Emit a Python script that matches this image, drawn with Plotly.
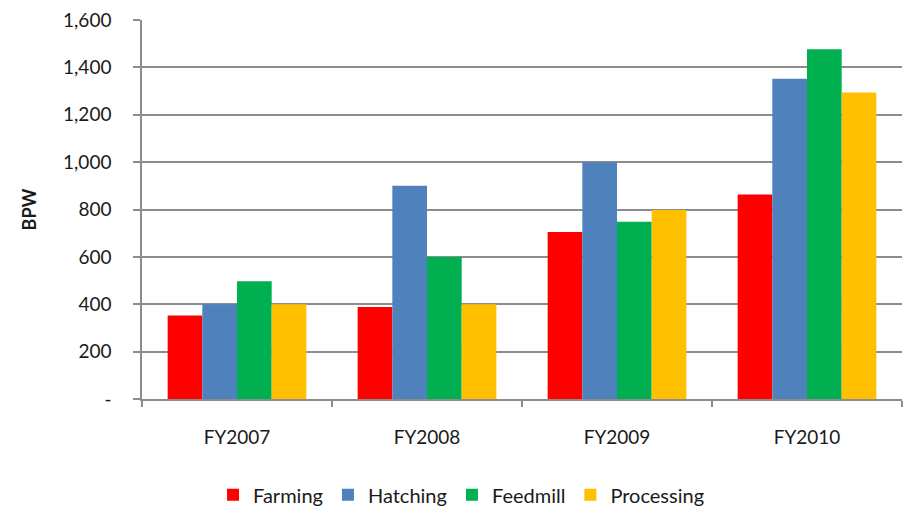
import plotly.graph_objects as go

years = ["FY2007", "FY2008", "FY2009", "FY2010"]
farming = [352, 388, 705, 863]
hatching = [400, 900, 1000, 1352]
feedmill = [497, 600, 748, 1477]
processing = [400, 400, 798, 1294]

series = [
    ("Farming", farming, "#FF0000"),
    ("Hatching", hatching, "#4F81BD"),
    ("Feedmill", feedmill, "#00B050"),
    ("Processing", processing, "#FFC000"),
]

y_ticks = [0, 200, 400, 600, 800, 1000, 1200, 1400, 1600]
y_labels = ["-", "200", "400", "600", "800", "1,000", "1,200", "1,400", "1,600"]

font_family = "Lato, 'Open Sans', sans-serif"

fig = go.Figure()
for name, vals, color in series:
    fig.add_trace(go.Bar(
        x=years, y=vals, name=name,
        marker=dict(color=color, line=dict(width=0)),
    ))

fig.update_layout(
    barmode="group",
    bargap=0.27,
    bargroupgap=0,
    width=904, height=508,
    margin=dict(l=142, r=2, t=20, b=109),
    paper_bgcolor="white",
    plot_bgcolor="white",
    font=dict(family=font_family, size=19, color="#1a1a1a"),
    legend=dict(
        orientation="h",
        xref="container", yref="container",
        x=0.51, xanchor="center",
        y=0.026, yanchor="middle",
        font=dict(size=20),
        itemwidth=30,
        traceorder="normal",
    ),
    showlegend=True,
)

fig.update_yaxes(
    range=[0, 1600],
    tickvals=y_ticks, ticktext=y_labels,
    showgrid=True, gridcolor="#8C8C8C", gridwidth=1.5,
    showline=True, linecolor="#8C8C8C", linewidth=1.5,
    ticks="outside", ticklen=7, tickcolor="#8C8C8C", tickwidth=1.5,
    ticklabelstandoff=18,
    zeroline=False,
    title=dict(text="<b>BPW</b>", font=dict(size=18), standoff=22),
)

fig.update_xaxes(
    showline=True, linecolor="#8C8C8C", linewidth=1.5,
    ticks="outside", tickson="boundaries", ticklen=6,
    tickcolor="#8C8C8C", tickwidth=1.5,
    ticklabelstandoff=20,
    showgrid=False,
)

fig.write_html("out.html")
